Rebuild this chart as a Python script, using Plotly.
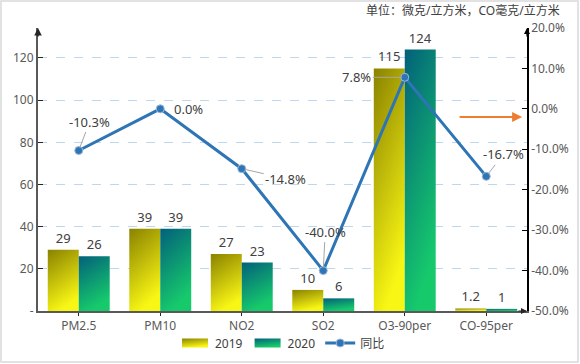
import plotly.graph_objects as go

# ---------------- data ----------------
categories = ["PM2.5", "PM10", "NO2", "SO2", "O3-90per", "CO-95per"]
values_2019 = [29, 39, 27, 10, 115, 1.2]
values_2020 = [26, 39, 23, 6, 124, 1]
yoy_pct = [-10.3, 0.0, -14.8, -40.0, 7.8, -16.7]
yoy_labels = ["-10.3%", "0.0%", "-14.8%", "-40.0%", "7.8%", "-16.7%"]
left_tickvals = [0, 20, 40, 60, 80, 100, 120]
left_ticktext = ["-", "20", "40", "60", "80", "100", "120"]
right_tickvals = [-50, -40, -30, -20, -10, 0, 10, 20]
right_ticktext = ["-50.0%", "-40.0%", "-30.0%", "-20.0%", "-10.0%", "0.0%", "10.0%", "20.0%"]
unit_text = "单位：微克/立方米，CO毫克/立方米"

# ---------------- style ----------------
FONT = "Noto Sans, Noto Sans CJK SC, sans-serif"
TXT = "#404040"
TICK = "#595959"
BLUE = "#2e75b6"
# pixel offsets of the line labels (ax, ay, draw leader line)
label_offsets = [(11, -29, True), (28, 0, False), (44, 10, True),
                 (2, -39, True), (-48, 0, True), (17, -22, True)]

fig = go.Figure()
fig.add_trace(go.Bar(
    x=categories, y=values_2019, name="2019",
    marker=dict(color="#d2cb10", line=dict(width=0)),
    text=[str(v) for v in values_2019], textposition="outside",
    textfont=dict(size=13, color=TXT), cliponaxis=False,
))
fig.add_trace(go.Bar(
    x=categories, y=values_2020, name="2020",
    marker=dict(color="#0e9a7c", line=dict(width=0)),
    text=[str(v) for v in values_2020], textposition="outside",
    textfont=dict(size=13, color=TXT), cliponaxis=False,
))
fig.add_trace(go.Scatter(
    x=categories, y=yoy_pct, name="同比", yaxis="y2",
    mode="lines+markers",
    line=dict(color=BLUE, width=3),
    marker=dict(size=8, color=BLUE, line=dict(width=1, color="#9db8d9")),
    cliponaxis=False,
))

annotations = []
for cat, v, lab, (ax, ay, lead) in zip(categories, yoy_pct, yoy_labels, label_offsets):
    if lead:
        annotations.append(dict(
            x=cat, y=v, xref="x", yref="y2", text=lab,
            showarrow=True, arrowhead=0, arrowwidth=1, arrowcolor="#a6a6a6",
            ax=ax, ay=ay, standoff=3,
            font=dict(size=13, color=TXT, family=FONT),
        ))
    else:
        annotations.append(dict(
            x=cat, y=v, xref="x", yref="y2", text=lab,
            showarrow=False, xshift=ax, yshift=-ay,
            font=dict(size=13, color=TXT, family=FONT),
        ))

# unit text
annotations.append(dict(
    x=1.0716, y=1.0636, xref="paper", yref="paper", text=unit_text,
    showarrow=False, xanchor="right", yanchor="middle",
    font=dict(size=12, color=TXT, family=FONT),
))
# orange arrow decoration
annotations.append(dict(
    x=0.990, y=0.6855, ax=-64, ay=0, xref="paper", yref="paper",
    text="", showarrow=True,
    arrowhead=2, arrowsize=1, arrowwidth=2, arrowcolor="#ed7d31",
))
# axis arrows
annotations.append(dict(x=0, y=1.0, xref="paper", yref="paper", ax=0, ay=10,
                        text="", showarrow=True, arrowhead=2, arrowsize=1,
                        arrowwidth=1.5, arrowcolor="#262626"))
annotations.append(dict(x=1, y=1.0, xref="paper", yref="paper", ax=0, ay=10,
                        text="", showarrow=True, arrowhead=2, arrowsize=1,
                        arrowwidth=1.2, arrowcolor="#000000"))
annotations.append(dict(x=1.0, y=0, xref="paper", yref="paper", ax=-10, ay=0,
                        text="", showarrow=True, arrowhead=2, arrowsize=1,
                        arrowwidth=1.2, arrowcolor="#262626"))

fig.update_layout(
    width=580, height=364,
    margin=dict(l=38, r=53, t=28, b=53, autoexpand=False),
    paper_bgcolor="white", plot_bgcolor="white",
    font=dict(family=FONT, size=12, color=TXT),
    barmode="group", bargap=0.24, bargroupgap=0,
    showlegend=True,
    legend=dict(orientation="h", x=0.5, xanchor="center", y=-0.113,
                yanchor="middle", font=dict(size=12, color=TXT),
                bgcolor="rgba(0,0,0,0)"),
    xaxis=dict(
        showline=True, linecolor="#595959", linewidth=2,
        ticks="outside", ticklen=3, tickcolor="#262626",
        tickfont=dict(size=12, color=TICK), showgrid=False, automargin=False,
    ),
    yaxis=dict(
        range=[0, 134.2], tickvals=left_tickvals, ticktext=left_ticktext,
        showline=True, linecolor="#595959", linewidth=2,
        ticks="inside", ticklen=5, tickcolor="#262626",
        tickfont=dict(size=12, color=TICK),
        showgrid=True, gridcolor="#bdd7ee", griddash="dash", gridwidth=1,
        zeroline=False, automargin=False,
    ),
    yaxis2=dict(
        overlaying="y", side="right", range=[-50, 20],
        tickvals=right_tickvals, ticktext=right_ticktext,
        showline=True, linecolor="#000000", linewidth=1.5,
        ticks="inside", ticklen=5, tickcolor="#000000",
        tickfont=dict(size=12, color=TICK), showgrid=False, zeroline=False,
        automargin=False,
    ),
    annotations=annotations,
    shapes=[dict(type="rect", xref="paper", yref="paper",
                 x0=-0.0757, x1=1.1043, y0=-0.1802, y1=1.0954,
                 line=dict(color="#d9d9d9", width=1.5), layer="below")],
)

post_script = """
(function(){
  document.body.style.margin = '0';
  document.body.style.padding = '0';
  var gd = document.getElementById('{plot_id}');
  var ns = 'http://www.w3.org/2000/svg';
  function ensureDefs(){
    if (document.getElementById('grad2019')) return;
    var svg = gd.querySelector('svg.main-svg');
    var defs = svg.querySelector('defs');
    if (!defs) { defs = document.createElementNS(ns, 'defs'); svg.insertBefore(defs, svg.firstChild); }
    [['grad2019', '#8a8200', '#f8f614'], ['grad2020', '#03607a', '#16ca6c']].forEach(function(g){
      var lg = document.createElementNS(ns, 'linearGradient');
      lg.setAttribute('id', g[0]);
      lg.setAttribute('x1', '0'); lg.setAttribute('y1', '0');
      lg.setAttribute('x2', '0.35'); lg.setAttribute('y2', '1');
      var s1 = document.createElementNS(ns, 'stop');
      s1.setAttribute('offset', '0'); s1.setAttribute('stop-color', g[1]);
      var s2 = document.createElementNS(ns, 'stop');
      s2.setAttribute('offset', '1'); s2.setAttribute('stop-color', g[2]);
      lg.appendChild(s1); lg.appendChild(s2);
      defs.appendChild(lg);
    });
  }
  function apply(){
    try {
      ensureDefs();
      var ids = ['grad2019', 'grad2020'];
      var traces = gd.querySelectorAll('.barlayer .trace.bars');
      traces.forEach(function(t, i){
        if (i > 1) return;
        t.querySelectorAll('path').forEach(function(p){ p.style.fill = 'url(#' + ids[i] + ')'; });
      });
      var lt = gd.querySelectorAll('.legend .traces');
      lt.forEach(function(t, i){
        if (i > 1) return;
        t.querySelectorAll('.legendpoints path').forEach(function(p){
          p.setAttribute('d', 'M13,4.5H-13V-4.5H13Z');
          p.style.fill = 'url(#' + ids[i] + ')';
        });
      });
    } catch(e) {}
  }
  apply();
  if (gd.on) gd.on('plotly_afterplot', apply);
})();
"""

fig.write_html("out.html", post_script=post_script,
               config={"displayModeBar": False})
